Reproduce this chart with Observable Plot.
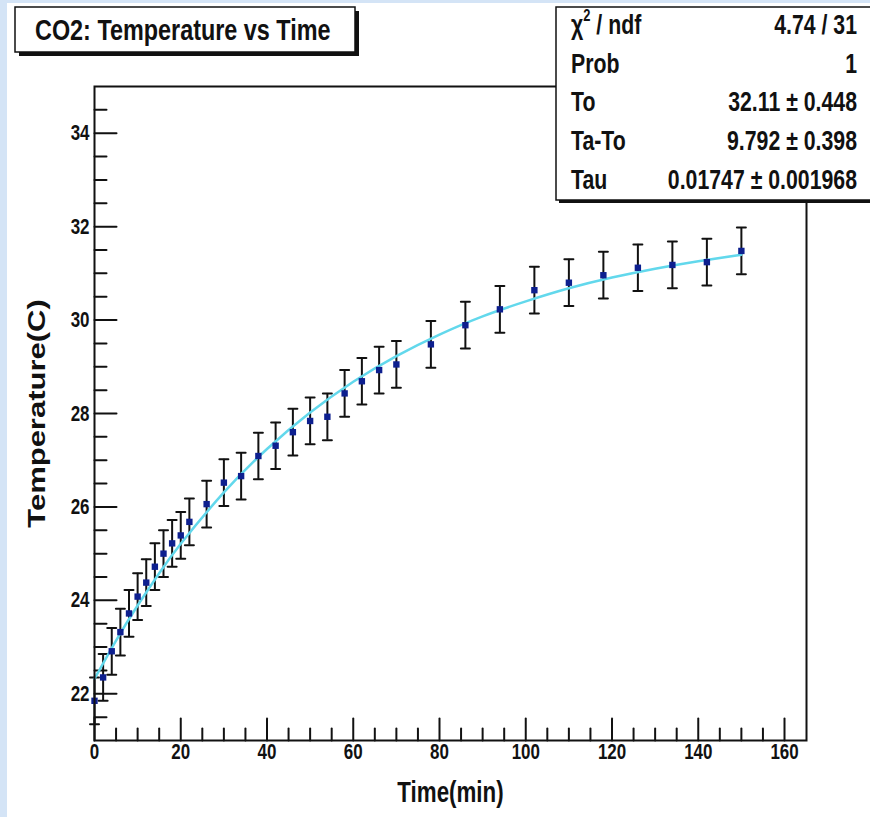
<!DOCTYPE html>
<html><head><meta charset="utf-8">
<script src="https://cdn.jsdelivr.net/npm/d3@7"></script>
<script src="https://cdn.jsdelivr.net/npm/@observablehq/plot@0.6"></script>
<style>
body{margin:0;background:#d4e4f6;}
#wrap{position:relative;width:870px;height:817px;overflow:hidden;}
#paper{position:absolute;left:7px;top:3px;right:0;bottom:0;background:#fff;}
#chart{position:absolute;left:0;top:0;}
#overlay{position:absolute;left:0;top:0;}
</style></head>
<body><div id="wrap"><div id="paper"></div><div id="chart"></div><svg id="overlay" width="870" height="817"></svg></div>
<script>
// Measured data (time in min, temperature in C, error)
const times = [0,2,4,6,8,10,12,14,16,18,20,22,26,30,34,38,42,46,50,54,58,62,66,70,78,86,94,102,110,118,126,134,142,150];
const temps = [21.85,22.35,22.91,23.32,23.72,24.08,24.38,24.72,25.00,25.22,25.39,25.68,26.06,26.52,26.66,27.09,27.31,27.60,27.84,27.93,28.43,28.69,28.93,29.05,29.48,29.89,30.23,30.64,30.80,30.96,31.12,31.18,31.24,31.48];
const errors = [0.5,0.5,0.5,0.5,0.5,0.5,0.5,0.5,0.5,0.5,0.5,0.5,0.5,0.5,0.5,0.5,0.5,0.5,0.5,0.5,0.5,0.5,0.5,0.5,0.5,0.5,0.5,0.5,0.5,0.5,0.5,0.5,0.5,0.5];
// Fitted curve
const fitTimes = [0,5,10,15,20,30,40,50,60,70,80,90,100,110,120,130,140,150];
const fitTemps = [22.32,23.14,23.89,24.58,25.21,26.31,27.24,28.02,28.68,29.23,29.69,30.08,30.40,30.68,30.91,31.10,31.26,31.40];
// Axis ticks
const xMajor = [0,20,40,60,80,100,120,140,160];
const xMinor = [5,10,15,25,30,35,45,50,55,65,70,75,85,90,95,105,110,115,125,130,135,145,150,155];
const yMajor = [22,24,26,28,30,32,34];
const yMinor = [21.5,22.5,23,23.5,24.5,25,25.5,26.5,27,27.5,28.5,29,29.5,30.5,31,31.5,32.5,33,33.5,34.5];
// Texts
const titleText = "CO2: Temperature vs Time";
const xLabel = "Time(min)";
const yLabel = "Temperature(C)";
const statNames = ["χ", "Prob", "To", "Ta-To", "Tau"];
const statValues = ["4.74 / 31", "1", "32.11 ± 0.448", "9.792 ± 0.398", "0.01747 ± 0.001968"];

const data = times.map((t, i) => ({t, T: temps[i], e: errors[i]}));
const fit = fitTimes.map((t, i) => ({t, T: fitTemps[i]}));
const tickShape = {draw(ctx, l) { ctx.moveTo(0, 0); ctx.lineTo(0, -l); }};
const FONT = "'Liberation Sans', Arial, Helvetica, sans-serif";
const INK = "#111";

const chart = Plot.plot({
  width: 870, height: 817,
  marginLeft: 94, marginRight: 64, marginTop: 86, marginBottom: 77,
  style: {background: "transparent", fontFamily: FONT, overflow: "visible", color: INK},
  x: {domain: [0, 165.1]},
  y: {domain: [21, 35]},
  marks: [
    Plot.vector(xMinor, {x: d => d, frameAnchor: "bottom", length: 12, rotate: 0, anchor: "start", shape: tickShape, stroke: INK, strokeWidth: 2}),
    Plot.vector(xMajor, {x: d => d, frameAnchor: "bottom", length: 22, rotate: 0, anchor: "start", shape: tickShape, stroke: INK, strokeWidth: 2}),
    Plot.vector(yMinor, {y: d => d, frameAnchor: "left", length: 12, rotate: 90, anchor: "start", shape: tickShape, stroke: INK, strokeWidth: 2}),
    Plot.vector(yMajor, {y: d => d, frameAnchor: "left", length: 22, rotate: 90, anchor: "start", shape: tickShape, stroke: INK, strokeWidth: 2}),
    Plot.axisX(xMajor, {anchor: "bottom", tickSize: 0, tickPadding: 3, fontSize: 22, fontWeight: "bold", label: null, fill: INK}),
    Plot.axisY(yMajor, {anchor: "left", tickSize: 0, tickPadding: 5, fontSize: 22, fontWeight: "bold", label: null, fill: INK}),
    Plot.text([xLabel], {text: d => d, frameAnchor: "bottom", dy: 52, lineAnchor: "middle", fontSize: 29, fontWeight: "bold", fill: INK}),
    Plot.text([yLabel], {text: d => d, frameAnchor: "left", dx: -57, rotate: -90, textAnchor: "middle", lineAnchor: "middle", fontSize: 31, fontWeight: "bold", fill: INK}),
    Plot.ruleX(data, {x: "t", y1: d => d.T - d.e, y2: d => d.T + d.e, stroke: INK, strokeWidth: 2}),
    Plot.vector(data, {x: "t", y: d => d.T + d.e, rotate: 90, anchor: "middle", length: 9, shape: tickShape, stroke: INK, strokeWidth: 2}),
    Plot.vector(data, {x: "t", y: d => d.T - d.e, rotate: 90, anchor: "middle", length: 9, shape: tickShape, stroke: INK, strokeWidth: 2}),
    Plot.line(fit, {x: "t", y: "T", curve: "natural", stroke: "#62d8ec", strokeWidth: 2.5}),
    Plot.dot(data, {x: "t", y: "T", symbol: "square", r: 3.6, fill: "#0d1f8f", stroke: "none"}),
    Plot.frame({stroke: INK, strokeWidth: 2})
  ]
});

// condense text horizontally (the reference is squeezed horizontally)
const S = 0.77;
chart.querySelectorAll("text").forEach(el => {
  const tr = el.getAttribute("transform") || "";
  el.setAttribute("transform", tr + (tr.includes("rotate") ? ` scale(1,${S})` : ` scale(${S},1)`));
});
document.getElementById("chart").appendChild(chart);

// Title and statistics boxes
const ov = d3.select("#overlay").style("font-family", FONT);
ov.append("rect").attr("x", 19).attr("y", 11).attr("width", 340).attr("height", 45).attr("fill", INK);
ov.append("rect").attr("x", 15).attr("y", 7).attr("width", 340).attr("height", 45).attr("fill", "#fff").attr("stroke", INK).attr("stroke-width", 1.5);
ov.append("text").attr("transform", `translate(35,40) scale(0.78,1)`).attr("font-size", 30).attr("font-weight", "bold").attr("fill", INK).text(titleText);

ov.append("rect").attr("x", 559).attr("y", 10).attr("width", 340).attr("height", 193).attr("fill", INK);
ov.append("rect").attr("x", 556).attr("y", 7).attr("width", 340).attr("height", 193).attr("fill", "#fff").attr("stroke", INK).attr("stroke-width", 1.5);
const rowY = [33.5, 72.5, 111, 150, 188.5];
statNames.forEach((name, i) => {
  const t = ov.append("text").attr("transform", `translate(571,${rowY[i]}) scale(0.76,1)`)
    .attr("font-size", 28).attr("font-weight", "bold").attr("fill", INK);
  if (i === 0) {
    t.append("tspan").text(name);
    t.append("tspan").attr("font-size", 17).attr("dy", -13).text("2");
    t.append("tspan").attr("dy", 13).text(" / ndf");
  } else {
    t.text(name);
  }
  ov.append("text").attr("transform", `translate(857,${rowY[i]}) scale(0.76,1)`)
    .attr("text-anchor", "end").attr("font-size", 28).attr("font-weight", "bold").attr("fill", INK).text(statValues[i]);
});
</script>
</body></html>
